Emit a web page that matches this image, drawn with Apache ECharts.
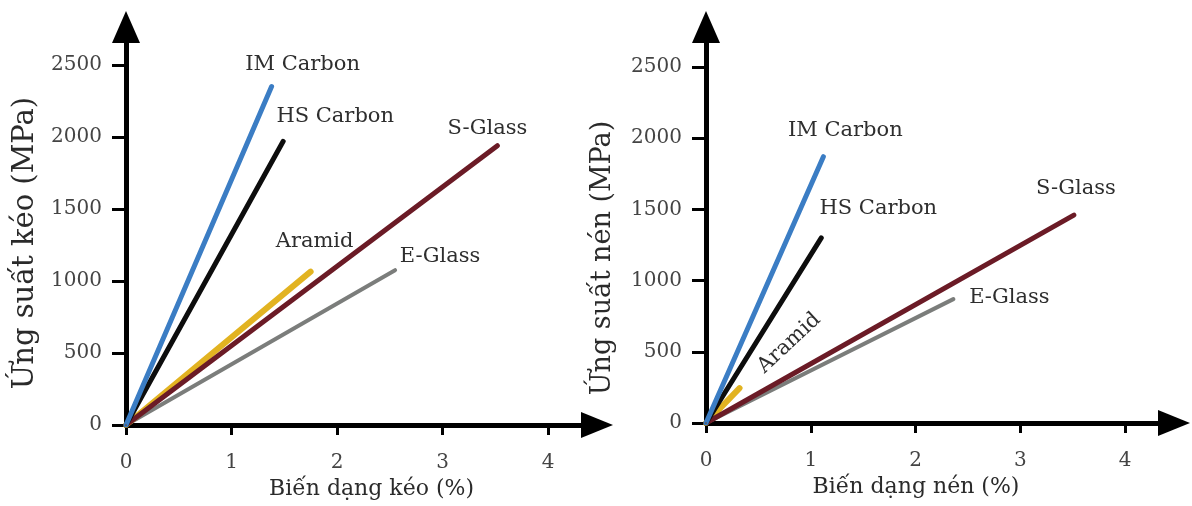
<!DOCTYPE html>
<html>
<head>
<meta charset="utf-8">
<script src="https://cdn.jsdelivr.net/npm/echarts@6/dist/echarts.min.js"></script>
<style>
html,body{margin:0;padding:0;background:#ffffff;}
#chart{width:1192px;height:506px;}
</style>
</head>
<body>
<div id="chart"></div>
<script>
// ---- data ----
const materials = ['IM Carbon', 'HS Carbon', 'S-Glass', 'Aramid', 'E-Glass'];
const tensileStrain = [1.38, 1.49, 3.52, 1.75, 2.55];     // %
const tensileStress = [2350, 1970, 1940, 1065, 1075];     // MPa
const compStrain = [1.12, 1.10, 3.51, 0.32, 2.36];        // %
const compStress = [1870, 1300, 1460, 245, 870];          // MPa
const xTicks = [0, 1, 2, 3, 4];
const yTicks = [0, 500, 1000, 1500, 2000, 2500];
const xTitles = ['Biến dạng kéo (%)', 'Biến dạng nén (%)'];
const yTitles = ['Ứng suất kéo (MPa)', 'Ứng suất nén (MPa)'];

// ---- styles ----
const FONT = 'DejaVu Serif';
const lineColors = {
  'IM Carbon': '#3b7dc4',
  'HS Carbon': '#0d0d0d',
  'S-Glass': '#6b1b26',
  'Aramid': '#e2b321',
  'E-Glass': '#7b7d7b'
};
const lineWidths = {'IM Carbon': 5, 'HS Carbon': 5, 'S-Glass': 5, 'Aramid': 6, 'E-Glass': 4};
const drawOrder = ['E-Glass', 'Aramid', 'S-Glass', 'HS Carbon', 'IM Carbon'];
const labelOffsets = [
  {'IM Carbon': [31, -22], 'HS Carbon': [52, -25], 'S-Glass': [-10, -17], 'Aramid': [4, -30], 'E-Glass': [45, -14]},
  {'IM Carbon': [22, -26], 'HS Carbon': [57, -29], 'S-Glass': [2, -27], 'Aramid': [67, 1], 'E-Glass': [56, -2]}
];
const labelRotate = [{}, {'Aramid': 43}];

const grids = [
  {left: 126, top: 27, width: 471, height: 398},
  {left: 706, top: 27, width: 468, height: 396}
];
const xMax = [471 / 105.5, 468 / 104.8];
const yMax = [398 / 0.144, 396 / 0.1424];

function plain(v) { return String(v); }

function makeX(i) {
  return {
    type: 'value', gridIndex: i, min: 0, max: xMax[i],
    axisLine: {show: true, onZero: false, symbol: ['none', 'triangle'], symbolSize: [26, 32],
      lineStyle: {color: '#000', width: 5}},
    axisTick: {show: true, customValues: xTicks, length: 10, lineStyle: {color: '#000', width: 3}},
    axisLabel: {show: true, customValues: xTicks, formatter: plain, margin: 28,
      fontFamily: FONT, fontSize: 20, color: '#444'},
    splitLine: {show: false},
    name: xTitles[i], nameLocation: 'middle', nameGap: 51,
    nameTextStyle: {fontFamily: FONT, fontSize: 22, color: '#2a2a2a',
      padding: i === 0 ? [0, 0, 0, 20] : [0, 48, 0, 0]}
  };
}
function makeY(i) {
  return {
    type: 'value', gridIndex: i, min: 0, max: yMax[i],
    axisLine: {show: true, onZero: false, symbol: ['none', 'triangle'], symbolSize: [28, 32],
      lineStyle: {color: '#000', width: 5}},
    axisTick: {show: true, customValues: yTicks, length: 14, lineStyle: {color: '#000', width: 3}},
    axisLabel: {show: true, customValues: yTicks, formatter: plain, margin: 24,
      fontFamily: FONT, fontSize: 20, color: '#444'},
    splitLine: {show: false},
    name: yTitles[i], nameLocation: 'middle', nameRotate: 90, nameGap: i === 0 ? 86 : 90,
    nameTextStyle: {fontFamily: FONT, fontSize: i === 0 ? 29 : 27, color: '#2a2a2a',
      padding: i === 0 ? [0, 34, 0, 0] : [0, 66, 0, 0]}
  };
}

const series = [];
[[tensileStrain, tensileStress], [compStrain, compStress]].forEach(function (pair, gi) {
  drawOrder.forEach(function (name) {
    const k = materials.indexOf(name);
    series.push({
      type: 'line', name: name, xAxisIndex: gi, yAxisIndex: gi,
      showSymbol: true, symbol: 'circle', symbolSize: 1,
      itemStyle: {color: lineColors[name]},
      lineStyle: {color: lineColors[name], width: lineWidths[name], cap: 'round'},
      silent: true,
      data: [
        [0, 0],
        {value: [pair[0][k], pair[1][k]],
         label: {show: true, position: 'inside', formatter: name,
           offset: labelOffsets[gi][name], rotate: labelRotate[gi][name] || 0,
           fontFamily: FONT, fontSize: 21, color: '#2e2e2e'}}
      ]
    });
  });
});

const chart = echarts.init(document.getElementById('chart'));
chart.setOption({
  animation: false,
  backgroundColor: '#ffffff',
  grid: grids,
  xAxis: [makeX(0), makeX(1)],
  yAxis: [makeY(0), makeY(1)],
  series: series
});
</script>
</body>
</html>
